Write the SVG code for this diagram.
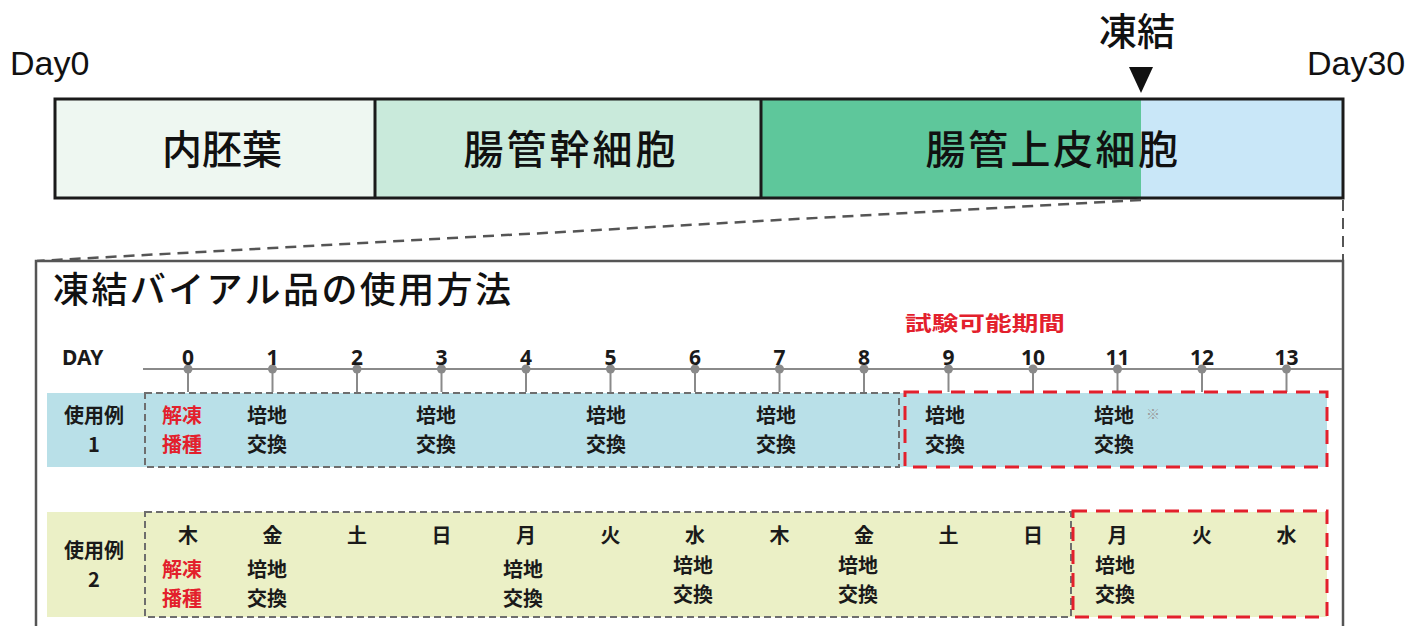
<svg xmlns="http://www.w3.org/2000/svg" width="1413" height="626" viewBox="0 0 1413 626">
<style>
.lat{font-family:"Liberation Sans",Arial,sans-serif;fill:#111}
.jp{font-family:"Noto Sans CJK JP","Noto Sans",sans-serif;fill:#111}
.t{font-size:20px;font-weight:bold;font-family:"Noto Sans CJK JP","Noto Sans",sans-serif;fill:#1a1a1a}
.t.red{fill:#e3202c}
.num{font-size:21px;font-weight:bold;font-family:"Noto Sans","Noto Sans CJK JP",sans-serif;fill:#1a1a1a;text-anchor:middle}
.gdash{fill:none;stroke:#6e6e6e;stroke-width:2;stroke-dasharray:7 4}
.rdash{fill:none;stroke:#e3202c;stroke-width:3;stroke-dasharray:14 9}
.stem{stroke:#8a8a8a;stroke-width:2}
.dot{fill:#8a8a8a}
</style>

<g id="header-labels">
<text class="lat" x="10" y="75" font-size="34">Day0</text>
<text class="lat" x="1307" y="75" font-size="34">Day30</text>
<text class="jp" x="1137" y="45" font-size="38" font-weight="500" text-anchor="middle">凍結</text>
<polygon points="1129,67 1153,67 1141,93" fill="#111"/>
</g>

<g id="stage-bar">
<rect x="55" y="99" width="320" height="99" fill="#eef7f1"/>
<rect x="375" y="99" width="386" height="99" fill="#c9eadb"/>
<rect x="761" y="99" width="380" height="99" fill="#5ec79b"/>
<rect x="1141" y="99" width="202" height="99" fill="#c9e7f8"/>
<rect x="55" y="99" width="1288" height="99" fill="none" stroke="#1a1a1a" stroke-width="3"/>
<line x1="375" y1="99" x2="375" y2="198" stroke="#1a1a1a" stroke-width="3"/>
<line x1="761" y1="99" x2="761" y2="198" stroke="#1a1a1a" stroke-width="3"/>
<text class="jp" x="222" y="164" font-size="40" font-weight="500" text-anchor="middle">内胚葉</text>
<text class="jp" x="571" y="164" font-size="40" font-weight="500" text-anchor="middle" letter-spacing="3">腸管幹細胞</text>
<text class="jp" x="1053" y="164" font-size="40" font-weight="500" text-anchor="middle" letter-spacing="2.5">腸管上皮細胞</text>
</g>

<g id="connectors">
<line x1="1141" y1="200" x2="37" y2="261" stroke="#555" stroke-width="2.5" stroke-dasharray="11 7"/>
<line x1="1343" y1="200" x2="1343" y2="261" stroke="#555" stroke-width="2" stroke-dasharray="11 7"/>
</g>

<g id="usage-panel">
<rect x="36" y="261" width="1307" height="380" fill="#fff" stroke="#555" stroke-width="2.5"/>
<text class="jp" x="53" y="303" font-size="36" font-weight="500" textLength="458" lengthAdjust="spacing">凍結バイアル品の使用方法</text>
</g>

<g id="timeline">
<text x="62" y="365" font-size="21" font-weight="bold" font-family="Noto Sans,sans-serif" fill="#1a1a1a">DAY</text>
<line x1="143" y1="369" x2="1342" y2="369" stroke="#8a8a8a" stroke-width="2"/>
<g class="stem">
<line x1="188" y1="369" x2="188" y2="392"/><line x1="272.5" y1="369" x2="272.5" y2="392"/><line x1="357" y1="369" x2="357" y2="392"/><line x1="441.5" y1="369" x2="441.5" y2="392"/><line x1="526" y1="369" x2="526" y2="392"/><line x1="610.5" y1="369" x2="610.5" y2="392"/><line x1="695" y1="369" x2="695" y2="392"/><line x1="779.5" y1="369" x2="779.5" y2="392"/><line x1="864" y1="369" x2="864" y2="392"/><line x1="948.5" y1="369" x2="948.5" y2="392"/><line x1="1033" y1="369" x2="1033" y2="392"/><line x1="1117.5" y1="369" x2="1117.5" y2="392"/><line x1="1202" y1="369" x2="1202" y2="392"/><line x1="1286.5" y1="369" x2="1286.5" y2="392"/>
</g>
<g class="dot">
<circle cx="188" cy="369" r="4.5"/><circle cx="272.5" cy="369" r="4.5"/><circle cx="357" cy="369" r="4.5"/><circle cx="441.5" cy="369" r="4.5"/><circle cx="526" cy="369" r="4.5"/><circle cx="610.5" cy="369" r="4.5"/><circle cx="695" cy="369" r="4.5"/><circle cx="779.5" cy="369" r="4.5"/><circle cx="864" cy="369" r="4.5"/><circle cx="948.5" cy="369" r="4.5"/><circle cx="1033" cy="369" r="4.5"/><circle cx="1117.5" cy="369" r="4.5"/><circle cx="1202" cy="369" r="4.5"/><circle cx="1286.5" cy="369" r="4.5"/>
</g>
<text class="num" x="188" y="365">0</text><text class="num" x="272.5" y="365">1</text><text class="num" x="357" y="365">2</text><text class="num" x="441.5" y="365">3</text><text class="num" x="526" y="365">4</text><text class="num" x="610.5" y="365">5</text><text class="num" x="695" y="365">6</text><text class="num" x="779.5" y="365">7</text><text class="num" x="864" y="365">8</text><text class="num" x="948.5" y="365">9</text><text class="num" x="1033" y="365">10</text><text class="num" x="1117.5" y="365">11</text><text class="num" x="1202" y="365">12</text><text class="num" x="1286.5" y="365">13</text>
<text class="t red" x="905" y="331" font-size="20" textLength="160" lengthAdjust="spacingAndGlyphs">試験可能期間</text>
</g>

<g id="example-1">
<rect x="47" y="393" width="1280" height="74" fill="#b9e0e8"/>
<rect class="gdash" x="145" y="393" width="754" height="74"/>
<rect class="rdash" x="905" y="392" width="422" height="75"/>
<text class="t" text-anchor="middle"><tspan x="94" y="423">使用例</tspan><tspan x="94" y="452">1</tspan></text>
<text class="t red"><tspan x="162" y="423">解凍</tspan><tspan x="162" y="452">播種</tspan></text>
<text class="t"><tspan x="247" y="423">培地</tspan><tspan x="247" y="452">交換</tspan></text>
<text class="t"><tspan x="416" y="423">培地</tspan><tspan x="416" y="452">交換</tspan></text>
<text class="t"><tspan x="586" y="423">培地</tspan><tspan x="586" y="452">交換</tspan></text>
<text class="t"><tspan x="756" y="423">培地</tspan><tspan x="756" y="452">交換</tspan></text>
<text class="t"><tspan x="925" y="423">培地</tspan><tspan x="925" y="452">交換</tspan></text>
<text class="t"><tspan x="1094" y="423">培地</tspan><tspan x="1094" y="452">交換</tspan></text>
<text x="1146" y="419" font-size="14" fill="#999" font-family="Noto Sans CJK JP,sans-serif">※</text>
</g>

<g id="example-2">
<rect x="47" y="512" width="1280" height="105" fill="#ebf0c6"/>
<rect class="gdash" x="145" y="512" width="926" height="105"/>
<rect class="rdash" x="1073" y="511" width="254" height="106"/>
<text class="t" text-anchor="middle"><tspan x="94" y="558">使用例</tspan><tspan x="94" y="587">2</tspan></text>
<g text-anchor="middle">
<text class="t" x="188" y="543">木</text><text class="t" x="272.5" y="543">金</text><text class="t" x="357" y="543">土</text><text class="t" x="441.5" y="543">日</text><text class="t" x="526" y="543">月</text><text class="t" x="610.5" y="543">火</text><text class="t" x="695" y="543">水</text><text class="t" x="779.5" y="543">木</text><text class="t" x="864" y="543">金</text><text class="t" x="948.5" y="543">土</text><text class="t" x="1033" y="543">日</text><text class="t" x="1117.5" y="543">月</text><text class="t" x="1202" y="543">火</text><text class="t" x="1286.5" y="543">水</text>
</g>
<text class="t red"><tspan x="162" y="577">解凍</tspan><tspan x="162" y="606">播種</tspan></text>
<text class="t"><tspan x="247" y="577">培地</tspan><tspan x="247" y="606">交換</tspan></text>
<text class="t"><tspan x="503" y="577">培地</tspan><tspan x="503" y="606">交換</tspan></text>
<text class="t"><tspan x="673" y="573">培地</tspan><tspan x="673" y="602">交換</tspan></text>
<text class="t"><tspan x="838" y="573">培地</tspan><tspan x="838" y="602">交換</tspan></text>
<text class="t"><tspan x="1095" y="573">培地</tspan><tspan x="1095" y="602">交換</tspan></text>
</g>
</svg>
